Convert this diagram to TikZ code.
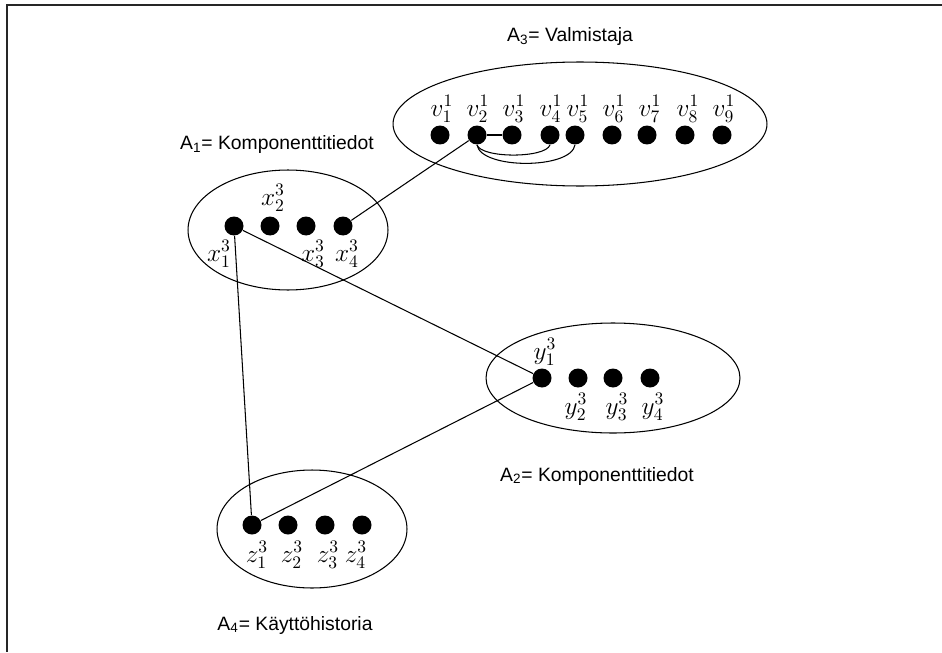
\documentclass[tikz,border=0pt]{standalone}
\usepackage{fontspec}
\setsansfont{Liberation Sans}

\begin{document}
\begin{tikzpicture}[x=0.02cm, y=-0.02cm, line width=0.6pt,
        dot/.style={circle, fill=black, inner sep=0pt, minimum size=0.38cm},
        lbl/.style={inner sep=0pt, font=\fontsize{14}{16}\selectfont},
        title/.style={inner sep=0pt, font=\sffamily\fontsize{11}{13}\selectfont}]
        \useasboundingbox (0, 0) rectangle (942, 652);
        \draw[line width=1.1pt, black!85] (942, 5) -| (7, 652);
        
        % the four sets
        \draw (580, 124) ellipse [x radius=3.74cm, y radius=1.24cm];
        \draw (288, 230) ellipse [x radius=2.0cm, y radius=1.2cm];
        \draw (613, 378) ellipse [x radius=2.54cm, y radius=1.1cm];
        \draw (312, 529) ellipse [x radius=1.9cm, y radius=1.18cm];
        
        \node[title] (tA3) at (570, 37) {A\textsubscript{3}= Valmistaja};
        \node[title] (tA1) at (277, 145) {A\textsubscript{1}= Komponenttitiedot};
        \node[title] (tA2) at (597, 476) {A\textsubscript{2}= Komponenttitiedot};
        \node[title] (tA4) at (295, 625) {A\textsubscript{4}= Käyttöhistoria};
        
        \node[dot] (v1) at (440, 135) {};
        \node[dot] (v2) at (477, 135) {};
        \node[dot] (v3) at (512, 135) {};
        \node[dot] (v4) at (550, 135) {};
        \node[dot] (v5) at (575, 135) {};
        \node[dot] (v6) at (612, 135) {};
        \node[dot] (v7) at (647, 135) {};
        \node[dot] (v8) at (685, 135) {};
        \node[dot] (v9) at (722, 135) {};
        
        \node[lbl] (lv1) at (442, 109) {$v^1_1$};
        \node[lbl] (lv2) at (478, 109) {$v^1_2$};
        \node[lbl] (lv3) at (514, 109) {$v^1_3$};
        \node[lbl] (lv4) at (551, 109) {$v^1_4$};
        \node[lbl] (lv5) at (578, 109) {$v^1_5$};
        \node[lbl] (lv6) at (614, 109) {$v^1_6$};
        \node[lbl] (lv7) at (650, 109) {$v^1_7$};
        \node[lbl] (lv8) at (688, 109) {$v^1_8$};
        \node[lbl] (lv9) at (724, 109) {$v^1_9$};
        
        \node[dot] (x1) at (234, 226) {};
        \node[dot] (x2) at (270, 226) {};
        \node[dot] (x3) at (306, 226) {};
        \node[dot] (x4) at (343, 226) {};
        
        \node[lbl] (lx1) at (219, 254) {$x^3_1$};
        \node[lbl] (lx2) at (273, 198) {$x^3_2$};
        \node[lbl] (lx3) at (313, 254) {$x^3_3$};
        \node[lbl] (lx4) at (347, 254) {$x^3_4$};
        
        \node[dot] (y1) at (542, 378) {};
        \node[dot] (y2) at (578, 378) {};
        \node[dot] (y3) at (613, 378) {};
        \node[dot] (y4) at (650, 378) {};
        
        \node[lbl] (ly1) at (545, 352) {$y^3_1$};
        \node[lbl] (ly2) at (576, 407) {$y^3_2$};
        \node[lbl] (ly3) at (617, 407) {$y^3_3$};
        \node[lbl] (ly4) at (653, 407) {$y^3_4$};
        
        \node[dot] (z1) at (252, 525) {};
        \node[dot] (z2) at (288, 525) {};
        \node[dot] (z3) at (325, 525) {};
        \node[dot] (z4) at (362, 525) {};
        
        \node[lbl] (lz1) at (257, 555) {$z^3_1$};
        \node[lbl] (lz2) at (292, 555) {$z^3_2$};
        \node[lbl] (lz3) at (328, 555) {$z^3_3$};
        \node[lbl] (lz4) at (356, 555) {$z^3_4$};
        
        % links inside A3
        \draw (v2) -- (v3);
        \draw (v2.south) to[out=-70, in=-110, looseness=0.5] (v4.south);
        \draw (v2.south) to[out=-80, in=-100, looseness=0.65] (v5.south);
        
        \draw (x4) -- (v2);
        \draw (x1) -- (y1);
        \draw (x1) -- (z1);
        \draw (z1) -- (y1);
    \end{tikzpicture}
\end{document}
